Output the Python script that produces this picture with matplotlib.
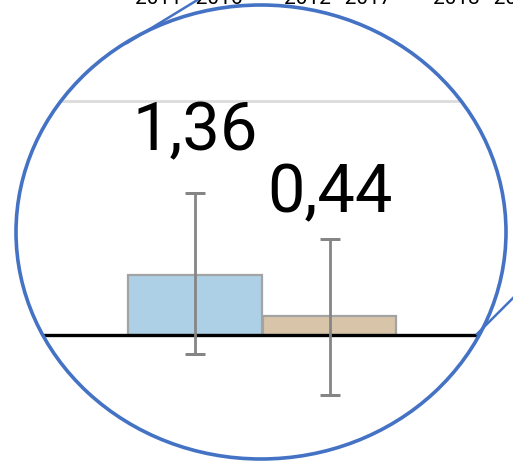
import matplotlib.pyplot as plt
from matplotlib.patches import Ellipse

# values
categories = ["2011-2016", "2012-2017"]
values = [1.36, 0.44]
err_low = [1.78, 1.77]
err_high = [1.82, 1.72]
bar_colors = ["#aed0e6", "#d8c5a9"]
value_labels = ["1,36", "0,44"]
grid_value = 5.23
period_labels = ["2011–2016", "2012–2017", "2013–2018"]

fig = plt.figure(figsize=(5.13, 4.62), dpi=100)

# main data axes, fills whole figure
ax = fig.add_axes([0, 0, 1, 1])
ax.set_xlim(-1.45, 2.364)
ax.set_ylim(-2.824, 7.489)
ax.axis("off")

# overlay in pixel coords for magnifier decoration
ov = fig.add_axes([0, 0, 1, 1], zorder=5)
ov.set_xlim(0, 513)
ov.set_ylim(462, 0)
ov.axis("off")
ov.patch.set_alpha(0)

lens = Ellipse((261, 232), 490, 454, fill=False, ec="#4472c4", lw=2.6,
               transform=ov.transData)
ov.add_patch(lens)
clip = Ellipse((261, 232), 490, 454, transform=ov.transData)

x = list(range(len(values)))
grid = ax.axhline(grid_value, color="#dcdcdc", lw=2, zorder=1)
bars = ax.bar(x, values, width=0.99, color=bar_colors, edgecolor="#a3a3a3",
              lw=1.6, zorder=2)
eb = ax.errorbar(x, values, yerr=[err_low, err_high], fmt="none",
                 ecolor="#858585", elinewidth=2, capsize=7.5, capthick=2,
                 zorder=4)
base = ax.axhline(0, color="black", lw=2.4, zorder=3)

label_y = [4.14, 2.74]
for xi, lab, ly in zip(x, value_labels, label_y):
    ax.text(xi, ly, lab, ha="center", va="baseline", fontsize=48,
            family="Roboto", color="black", zorder=6)

for art in [grid, base] + list(bars) + list(eb.lines[1]) + list(eb.lines[2]):
    art.set_clip_path(clip)

# connector lines of the magnifier
ov.plot([199, 127], [-1, 43], color="#4472c4", lw=1.8)
ov.plot([515, 477], [296, 334], color="#4472c4", lw=1.8)

# period labels of the underlying chart, cut at the top edge
for px, lab in zip([189, 337.5, 487], period_labels):
    ov.text(px, 4, lab, ha="center", va="baseline", fontsize=15,
            family="Roboto", color="black")

fig.savefig("out.png", dpi=100)
